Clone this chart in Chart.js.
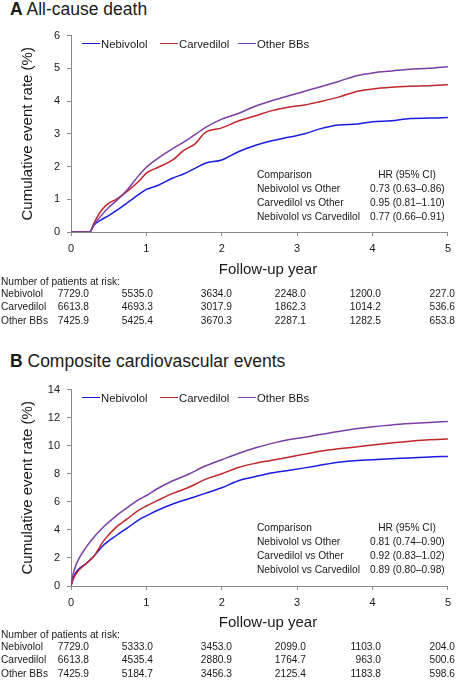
<!DOCTYPE html>
<html>
<head>
<meta charset="utf-8">
<script src="https://cdn.jsdelivr.net/npm/chart.js@4.4.1/dist/chart.umd.min.js"></script>
<style>
  html, body { margin: 0; padding: 0; background: #fff; }
  body { width: 457px; height: 680px; position: relative; overflow: hidden;
         font-family: 'Liberation Sans', Arial, sans-serif; color: #1a1a1a; }
  canvas { position: absolute; left: 0; }
  .t { position: absolute; white-space: nowrap; line-height: 20px; }
  .key { position: absolute; width: 18px; height: 0; }
</style>
</head>
<body>
<canvas id="chart-a" width="457" height="258" style="top:22px"></canvas>
<canvas id="chart-b" width="457" height="258" style="top:376px"></canvas>
<script>
// Panel A: all-cause death (cumulative event rate, %)
const yearsA = [0, 0.25, 0.3, 0.4, 0.5, 0.6, 0.75, 0.9, 1.0, 1.15, 1.35, 1.5, 1.65, 1.78, 2.0, 2.22, 2.45, 2.65, 2.9, 3.1, 3.3, 3.55, 3.8, 4.0, 4.25, 4.5, 4.75, 5.0];
const nebivololA = [0, 0, 0.2, 0.37, 0.5, 0.65, 0.9, 1.15, 1.3, 1.42, 1.65, 1.78, 1.95, 2.1, 2.2, 2.45, 2.65, 2.78, 2.9, 3.0, 3.15, 3.27, 3.3, 3.37, 3.4, 3.47, 3.48, 3.5];
const carvedilolA = [0, 0, 0.25, 0.65, 0.88, 1.0, 1.25, 1.55, 1.8, 1.97, 2.2, 2.5, 2.7, 3.04, 3.18, 3.39, 3.55, 3.7, 3.82, 3.88, 3.98, 4.12, 4.3, 4.37, 4.42, 4.45, 4.47, 4.5];
const otherA = [0, 0, 0.2, 0.5, 0.75, 0.95, 1.3, 1.73, 1.98, 2.25, 2.55, 2.75, 2.98, 3.19, 3.45, 3.62, 3.85, 4.0, 4.17, 4.3, 4.43, 4.6, 4.78, 4.86, 4.92, 4.97, 5.0, 5.05];

// Panel B: composite cardiovascular events
const yearsB = [0, 0.03, 0.1, 0.2, 0.3, 0.43, 0.6, 0.75, 0.9, 1.0, 1.15, 1.35, 1.55, 1.78, 2.0, 2.22, 2.45, 2.65, 2.9, 3.1, 3.3, 3.55, 3.8, 4.0, 4.25, 4.5, 4.75, 5.0];
const nebivololB = [0, 0.6, 1.2, 1.6, 2.1, 2.9, 3.6, 4.15, 4.72, 5.0, 5.4, 5.85, 6.2, 6.6, 7.0, 7.5, 7.8, 8.05, 8.25, 8.42, 8.6, 8.82, 8.95, 9.0, 9.07, 9.13, 9.2, 9.24];
const carvedilolB = [0, 0.5, 1.1, 1.6, 2.1, 3.2, 4.2, 4.8, 5.4, 5.7, 6.1, 6.6, 7.0, 7.6, 8.0, 8.45, 8.75, 8.95, 9.2, 9.4, 9.6, 9.78, 9.92, 10.05, 10.2, 10.32, 10.42, 10.47];
const otherB = [0, 0.9, 1.9, 2.75, 3.45, 4.2, 5.0, 5.6, 6.15, 6.45, 6.95, 7.5, 7.95, 8.55, 9.0, 9.45, 9.85, 10.15, 10.45, 10.6, 10.8, 11.02, 11.22, 11.35, 11.48, 11.58, 11.66, 11.73];

// Number of patients at risk at years 0..5
const riskYears = [0, 1, 2, 3, 4, 5];
const riskNebivololA = [7729.0, 5535.0, 3634.0, 2248.0, 1200.0, 227.0];
const riskCarvedilolA = [6613.8, 4693.3, 3017.9, 1862.3, 1014.2, 536.6];
const riskOtherA = [7425.9, 5425.4, 3670.3, 2287.1, 1282.5, 653.8];
const riskNebivololB = [7729.0, 5333.0, 3453.0, 2099.0, 1103.0, 204.0];
const riskCarvedilolB = [6613.8, 4535.4, 2880.9, 1764.7, 963.0, 500.6];
const riskOtherB = [7425.9, 5184.7, 3456.3, 2125.4, 1183.8, 598.6];

// Hazard ratios
const comparisons = ['Nebivolol vs Other', 'Carvedilol vs Other', 'Nebivolol vs Carvedilol'];
const hrA = ['0.73 (0.63\u20130.86)', '0.95 (0.81\u20131.10)', '0.77 (0.66\u20130.91)'];
const hrB = ['0.81 (0.74\u20130.90)', '0.92 (0.83\u20131.02)', '0.89 (0.80\u20130.98)'];

const seriesNames = ['Nebivolol', 'Carvedilol', 'Other BBs'];
const seriesColors = ['#1c1ce0', '#c0262c', '#7b3fa6'];
const FONT = "'Liberation Sans', Arial, sans-serif";
const AXIS = '#8a8a8a';

// absolutely placed text, y is the vertical centre
function put(html, x, y, size, align) {
    const el = document.createElement('div');
    el.className = 't';
    el.innerHTML = html;
    el.style.fontSize = size + 'px';
    el.style.top = (y - 10) + 'px';
    if (align === 'right') {
        el.style.right = (457 - x) + 'px';
    } else if (align === 'center') {
        el.style.left = x + 'px';
        el.style.transform = 'translateX(-50%)';
    } else {
        el.style.left = x + 'px';
    }
    document.body.appendChild(el);
    return el;
}

function legend(y) {
    const lineX = [82, 160, 238];
    seriesNames.forEach(function(name, i) {
        const k = document.createElement('div');
        k.className = 'key';
        k.style.left = lineX[i] + 'px';
        k.style.top = (y - 0.75) + 'px';
        k.style.borderTop = '1.5px solid ' + seriesColors[i];
        document.body.appendChild(k);
        put(name, lineX[i] + 19, y, 11.3);
    });
}

function hrBox(y, values) {
    put('Comparison', 257, y, 10.2);
    put('HR (95% CI)', 407, y, 10.2, 'center');
    comparisons.forEach(function(c, i) {
        put(c, 257, y + 14 * (i + 1), 10.2);
        put(values[i], 370, y + 14 * (i + 1), 10.2);
    });
}

function riskTable(y, rows) {
    const colRight = [89, 153, 232, 306, 381, 455];
    put('Number of patients at risk:', 1, y, 10.2);
    rows.forEach(function(row, r) {
        const ry = y + 12 + r * 13.3;
        put(seriesNames[r], 1, ry, 10.2);
        riskYears.forEach(function(yr, c) {
            put(row[c].toFixed(1), colRight[c], ry, 10.2, 'right');
        });
    });
}

function makeChart(id, years, series, yMax, yStep) {
    const ctx = document.getElementById(id).getContext('2d');
    const datasets = series.map(function(vals, i) {
        return {
            label: seriesNames[i],
            data: years.map(function(x, j) { return { x: x, y: vals[j] }; }),
            borderColor: seriesColors[i],
            backgroundColor: seriesColors[i],
            borderWidth: 1.5,
            pointRadius: 0,
            cubicInterpolationMode: 'monotone'
        };
    });
    // draw the later groups first so the blue line ends on top like the original
    datasets.reverse();

    new Chart(ctx, {
        type: 'line',
        data: { datasets: datasets },
        options: {
            responsive: false,
            animation: false,
            layout: { padding: { left: 0, right: 5, top: 12, bottom: 0 } },
            plugins: { legend: { display: false }, tooltip: { enabled: false } },
            scales: {
                x: {
                    type: 'linear',
                    min: 0,
                    max: 5,
                    ticks: { stepSize: 1, color: '#1a1a1a', padding: 6, font: { family: FONT, size: 11 } },
                    grid: { drawOnChartArea: false, tickLength: 4, color: AXIS },
                    border: { color: AXIS, width: 1 },
                    // axis title is placed as page text, slightly right of centre like the original
                    title: { display: false },
                    afterFit: function(s) { s.height = 48; }
                },
                y: {
                    min: 0,
                    max: yMax,
                    ticks: { stepSize: yStep, color: '#1a1a1a', padding: 7, font: { family: FONT, size: 11 } },
                    grid: { drawOnChartArea: false, tickLength: 4, color: AXIS },
                    border: { color: AXIS, width: 1 },
                    title: { display: true, text: 'Cumulative event rate (%)', color: '#1a1a1a', padding: { top: 19, bottom: 0 }, font: { family: FONT, size: 15 } },
                    afterFit: function(s) { s.width = 71; }
                }
            }
        }
    });
}

document.addEventListener('DOMContentLoaded', function() {
    // Panel A
    put('<b>A</b> All-cause death', 10, 9, 17.5);
    makeChart('chart-a', yearsA, [nebivololA, carvedilolA, otherA], 6, 1);
    legend(44);
    hrBox(175, hrA);
    put('Follow-up year', 268, 269, 15, 'center');
    riskTable(282, [riskNebivololA, riskCarvedilolA, riskOtherA]);

    // Panel B
    put('<b>B</b> Composite cardiovascular events', 10, 361, 17.5);
    makeChart('chart-b', yearsB, [nebivololB, carvedilolB, otherB], 14, 2);
    legend(398);
    hrBox(528, hrB);
    put('Follow-up year', 268, 622, 15, 'center');
    riskTable(635, [riskNebivololB, riskCarvedilolB, riskOtherB]);
});
</script>
</body>
</html>
